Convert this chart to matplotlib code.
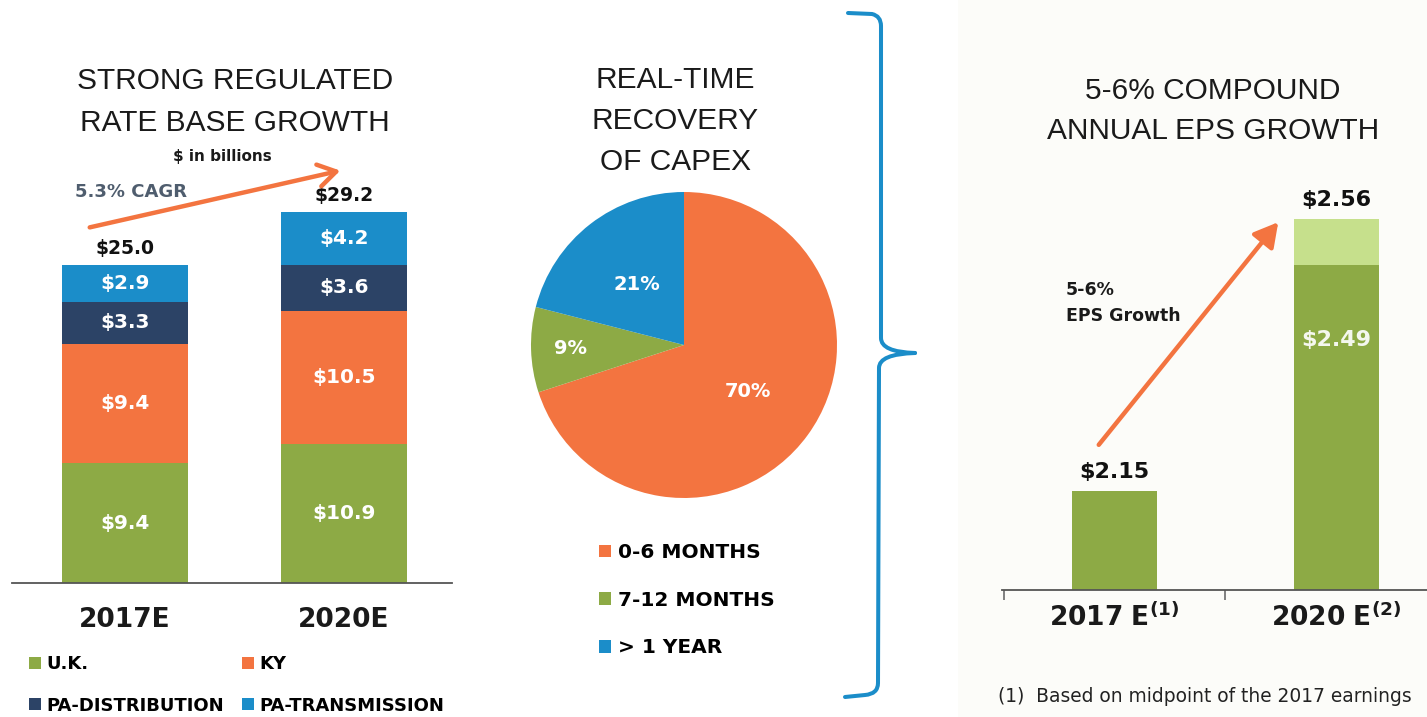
import matplotlib
matplotlib.use("Agg")
import matplotlib.pyplot as plt
from matplotlib.patches import Rectangle, FancyArrowPatch, PathPatch
from matplotlib.path import Path
import numpy as np

plt.rcParams['mathtext.fontset'] = 'dejavusans'

# ---------------- data ----------------
rb_years = ["2017E", "2020E"]
rb_segments = ["U.K.", "KY", "PA-DISTRIBUTION", "PA-TRANSMISSION"]
rb_uk = [9.4, 10.9]
rb_ky = [9.4, 10.5]
rb_padist = [3.3, 3.6]
rb_patrans = [2.9, 4.2]
rb_totals = [25.0, 29.2]

pie_labels = ["0-6 MONTHS", "7-12 MONTHS", "> 1 YEAR"]
pie_values = [70, 9, 21]

eps_years = [r"$\mathbf{2017\ E^{(1)}}$", r"$\mathbf{2020\ E^{(2)}}$"]
eps_low = [2.15, 2.49]
eps_high = [2.15, 2.56]

# ---------------- style ----------------
W, H = 1427, 717
GREEN = '#8DAA45'
ORANGE = '#F37440'
NAVY = '#2C4366'
BLUE = '#1B8DC9'
LIGHTGREEN = '#C6E08C'
TITLE_FONT = 'Liberation Sans'

fig = plt.figure(figsize=(W / 100, H / 100), dpi=100)
fig.patch.set_facecolor('white')

def fx(px):
    return px / W

def fy(py):
    return 1 - py / H

def ftext(x, y, s, **kw):
    fig.text(fx(x), fy(y), s, **kw)

# faint background of right panel
fig.add_artist(Rectangle((fx(958), 0), 1 - fx(958), 1, transform=fig.transFigure,
                         facecolor='#FCFCF9', edgecolor='none', zorder=-10))

# ---------------- left: stacked bars ----------------
axL = fig.add_axes([fx(12), fy(583), (452 - 12) / W, (583 - 201.4) / H])
xL = np.arange(len(rb_years))
bottom = np.zeros(len(rb_years))
seg_colors = [GREEN, ORANGE, NAVY, BLUE]
handles = []
for vals, col, name in zip([rb_uk, rb_ky, rb_padist, rb_patrans], seg_colors, rb_segments):
    vals = np.array(vals)
    b = axL.bar(xL, vals, bottom=bottom, width=0.571, color=col, label=name, zorder=2)
    handles.append(b)
    for xi, v, bt in zip(xL, vals, bottom):
        axL.text(xi, bt + v / 2, f"${v:.1f}", ha='center', va='center', color='white',
                 fontsize=14.5, fontweight='bold', zorder=3)
    bottom = bottom + vals
for xi, t in zip(xL, rb_totals):
    axL.annotate(f"${t:.1f}", (xi, t), xytext=(0, 5), textcoords='offset points',
                 ha='center', va='bottom', fontsize=13.5, fontweight='bold', color='#111111')
axL.set_ylim(0, 30)
axL.set_xlim(-0.516, 1.493)
for s in ['top', 'left', 'right']:
    axL.spines[s].set_visible(False)
axL.spines['bottom'].set_color('#555555')
axL.spines['bottom'].set_linewidth(1.3)
axL.set_yticks([])
axL.set_xticks(xL, rb_years)
axL.tick_params(axis='x', length=0, pad=17, labelsize=19)
for lab in axL.get_xticklabels():
    lab.set_fontweight('bold')
    lab.set_color('#1a1a1a')
axL.patch.set_alpha(0)

leg_order = [0, 2, 1, 3]
fig.legend([handles[i] for i in leg_order], [rb_segments[i] for i in leg_order],
           ncol=2, loc='upper left', bbox_to_anchor=(fx(22), fy(648)), frameon=False,
           prop={'weight': 'bold', 'size': 13}, handlelength=0.65, handleheight=0.65,
           handletextpad=0.3, columnspacing=1.0, labelspacing=1.3, borderaxespad=0)

ftext(235, 102, "STRONG REGULATED\nRATE BASE GROWTH", ha='center', va='center',
      fontsize=21.5, family=TITLE_FONT, color='#1a1a1a', linespacing=1.6)
ftext(222, 157, "$ in billions", ha='center', va='center', fontsize=11,
      fontweight='bold', color='#1a1a1a')
ftext(75, 192, "5.3% CAGR", ha='left', va='center', fontsize=13,
      fontweight='bold', color='#4F5D6E')
fig.add_artist(FancyArrowPatch((fx(87), fy(228)), (fx(343), fy(170)), transform=fig.transFigure,
                               arrowstyle='->,head_length=8,head_width=5', color=ORANGE,
                               lw=3.2, mutation_scale=1.6))

# ---------------- middle: pie ----------------
r = 153
axP = fig.add_axes([fx(684 - r), fy(345 + r), 2 * r / W, 2 * r / H])
wedges, _ = axP.pie(pie_values, colors=[ORANGE, GREEN, BLUE], startangle=90,
                    counterclock=False, radius=1, wedgeprops={'linewidth': 0})
axP.set_xlim(-1, 1)
axP.set_ylim(-1, 1)
axP.set_aspect('equal')
label_dist = [0.52, 0.74, 0.5]
for w, v, d in zip(wedges, pie_values, label_dist):
    ang = np.deg2rad((w.theta1 + w.theta2) / 2)
    axP.text(d * np.cos(ang), d * np.sin(ang), f"{v}%", ha='center', va='center',
             color='white', fontsize=14, fontweight='bold')
fig.legend(wedges, pie_labels, loc='upper left', bbox_to_anchor=(fx(591), fy(535)),
           frameon=False, prop={'weight': 'bold', 'size': 14.5}, handlelength=0.6,
           handleheight=0.6, handletextpad=0.35, labelspacing=1.42, borderaxespad=0)
ftext(675, 121, "REAL-TIME\nRECOVERY\nOF CAPEX", ha='center', va='center',
      fontsize=21.5, family=TITLE_FONT, color='#1a1a1a', linespacing=1.6)

# bracket
up = Path([(848, 13), (872, 14), (881, 16), (881, 26), (881, 338), (881, 352), (915, 353)],
          [Path.MOVETO, Path.LINETO, Path.CURVE3, Path.CURVE3, Path.LINETO, Path.CURVE3, Path.CURVE3])
lo = Path([(915, 353), (879, 354), (879, 368), (878, 683), (878, 694), (865, 695), (845, 697)],
          [Path.MOVETO, Path.CURVE3, Path.CURVE3, Path.LINETO, Path.CURVE3, Path.CURVE3, Path.LINETO])
for p in (up, lo):
    verts = np.array([(fx(x), fy(y)) for x, y in p.vertices])
    fig.add_artist(PathPatch(Path(verts, p.codes), transform=fig.transFigure, fill=False,
                             edgecolor=BLUE, lw=2.9, capstyle='round', joinstyle='round'))

# ---------------- right: EPS bars ----------------
ymin, ymax = 2.0, 2.7
scale = 663
axR = fig.add_axes([fx(1002), fy(590), (1427 - 1002) / W, (ymax - ymin) * scale / H])
xR = np.arange(len(eps_years))
low = np.array(eps_low)
high = np.array(eps_high)
axR.bar(xR, low - ymin, bottom=ymin, width=0.383, color=GREEN, zorder=2)
axR.bar(xR, high - low, bottom=low, width=0.383, color=LIGHTGREEN, zorder=2)
axR.set_ylim(ymin, ymax)
axR.set_xlim(-0.507, 1.408)
for s in ['top', 'left', 'right']:
    axR.spines[s].set_visible(False)
axR.spines['bottom'].set_color('#555555')
axR.spines['bottom'].set_linewidth(1.3)
axR.set_yticks([])
axR.set_xticks(xR, eps_years)
axR.set_xticks([-0.5, 0.5], minor=True)
axR.tick_params(axis='x', which='major', length=0, pad=10, labelsize=19, labelcolor='#1a1a1a')
axR.tick_params(axis='x', which='minor', length=7, width=1.3, color='#777777', direction='out')
axR.patch.set_alpha(0)
axR.annotate(f"${eps_high[0]:.2f}", (0, eps_high[0]), xytext=(0, 6), textcoords='offset points',
             ha='center', va='bottom', fontsize=16, fontweight='bold', color='#111111')
axR.annotate(f"${eps_high[1]:.2f}", (1, eps_high[1]), xytext=(0, 6), textcoords='offset points',
             ha='center', va='bottom', fontsize=16, fontweight='bold', color='#111111')
axR.annotate(f"${eps_low[1]:.2f}", (1, eps_low[1]), xytext=(0, -54), textcoords='offset points',
             ha='center', va='center', fontsize=16, fontweight='bold', color='#F4F7EE')

ftext(1213, 111, "5-6% COMPOUND\nANNUAL EPS GROWTH", ha='center', va='center',
      fontsize=21.5, family=TITLE_FONT, color='#1a1a1a', linespacing=1.55)
ftext(1066, 303, "5-6%\nEPS Growth", ha='left', va='center', fontsize=12.5,
      fontweight='bold', color='#1a1a1a', linespacing=1.6)
fig.add_artist(FancyArrowPatch((fx(1097), fy(447)), (fx(1280), fy(220)), transform=fig.transFigure,
                               arrowstyle='-|>,head_length=9,head_width=5', color=ORANGE,
                               lw=3.2, mutation_scale=1.6))
ftext(998, 697, "(1)  Based on midpoint of the 2017 earnings", ha='left', va='center',
      fontsize=13.4, color='#222222')

fig.savefig("out.png", dpi=100)
